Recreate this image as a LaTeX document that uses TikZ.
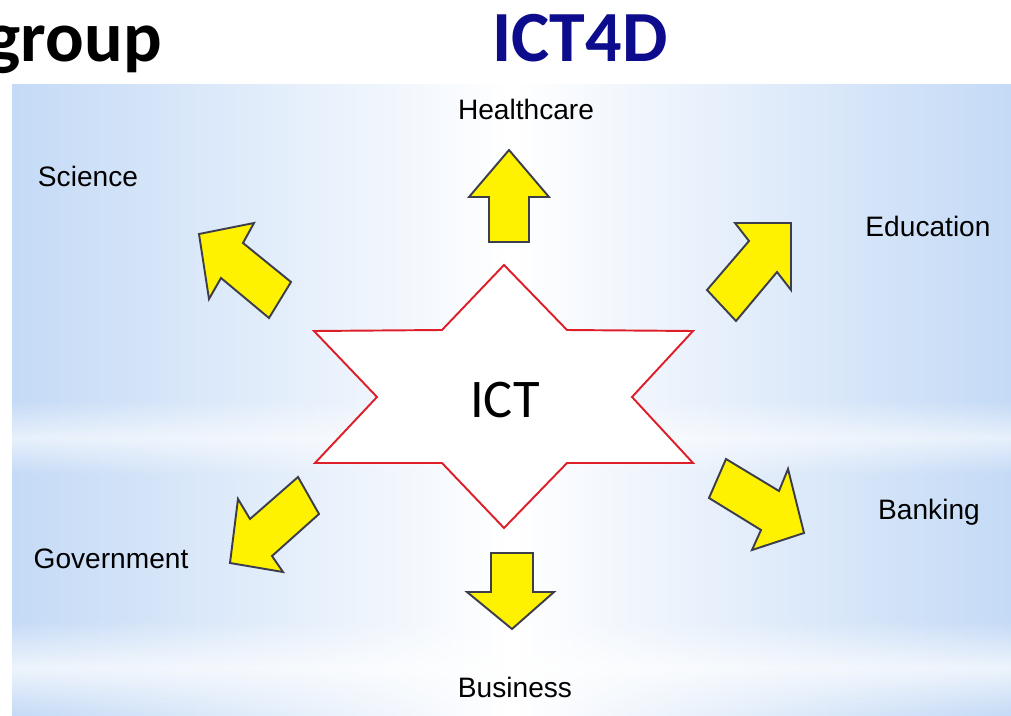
\documentclass[tikz,border=0pt]{standalone}
\usepackage{fontspec}
\setmainfont{Liberation Sans}
\newfontfamily\calfont{Carlito}
\usetikzlibrary{fadings}
\definecolor{bgblue}{RGB}{196,218,246}
\definecolor{titleblue}{RGB}{12,12,140}
\definecolor{starred}{RGB}{222,30,40}
\definecolor{arrowline}{RGB}{60,62,75}
\tikzfading[name=midband, top color=transparent!100, bottom color=transparent!100, middle color=transparent!0]
\begin{document}
\begin{tikzpicture}[x=0.02cm, y=-0.02cm,
    blockarrow/.style={fill=yellow, draw=arrowline, line width=1.1pt, line join=miter},
    label/.style={anchor=base, inner sep=0pt, font=\fontsize{16}{19}\selectfont}]
        \useasboundingbox (0,0) rectangle (1011,716);
        \fill[white] (0,0) rectangle (1011,716);
        \shade[left color=bgblue, right color=bgblue, middle color=white] (12,85) rectangle (1011,716);
        \fill[white, opacity=0.6, path fading=midband] (12,400) rectangle (1011,475);
        \fill[white, opacity=0.7, path fading=midband] (12,620) rectangle (1011,716);
        \node[anchor=base east, inner sep=0pt, font=\calfont\bfseries\fontsize{41}{48}\selectfont] (group) at (162,62) {group};
        \node[anchor=base, inner sep=0pt, text=titleblue, font=\calfont\bfseries\fontsize{41}{48}\selectfont] (title) at (580,62) {ICT4D};
        \draw[starred, fill=white, line width=1.1pt, line join=miter]
            (504,265) -- (567,330) -- (693,331) -- (632,397) -- (693,463) -- (567,463)
            -- (504,528) -- (442,463) -- (315,463) -- (377,397) -- (314,331) -- (442,330) -- cycle;
        \node[anchor=base, inner sep=0pt, font=\calfont\fontsize{31}{37}\selectfont] (ict) at (505,417) {ICT};
        \draw[blockarrow] (509,150) -- (549,197) -- (529,197) -- (529,242) -- (489,242) -- (489,197) -- (469,197) -- cycle;
        \draw[blockarrow] (491,553) -- (533,553) -- (533,592) -- (554,592) -- (512,629) -- (467,592) -- (491,592) -- cycle;
        \draw[blockarrow] (199,234) -- (254,223) -- (243,243) -- (291,282) -- (269,318) -- (221,278) -- (209,299) -- cycle;
        \draw[blockarrow] (791,223) -- (791,290) -- (777,272) -- (736,321) -- (707,290) -- (749,241) -- (735,223) -- cycle;
        \draw[blockarrow] (804,533) -- (752,550) -- (761,530) -- (709,498) -- (726,459) -- (779,491) -- (788,469) -- cycle;
        \draw[blockarrow] (230,563) -- (238,499) -- (250,519) -- (298,477) -- (319,514) -- (272,556) -- (283,572) -- cycle;
        \node[label] (health) at (526,120) {Healthcare};
        \node[label] (science) at (88,187) {Science};
        \node[label] (edu) at (928,237) {Education};
        \node[label] (bank) at (929,519) {Banking};
        \node[label] (gov) at (111,568) {Government};
        \node[label] (business) at (515,697) {Business};
    \end{tikzpicture}
\end{document}
